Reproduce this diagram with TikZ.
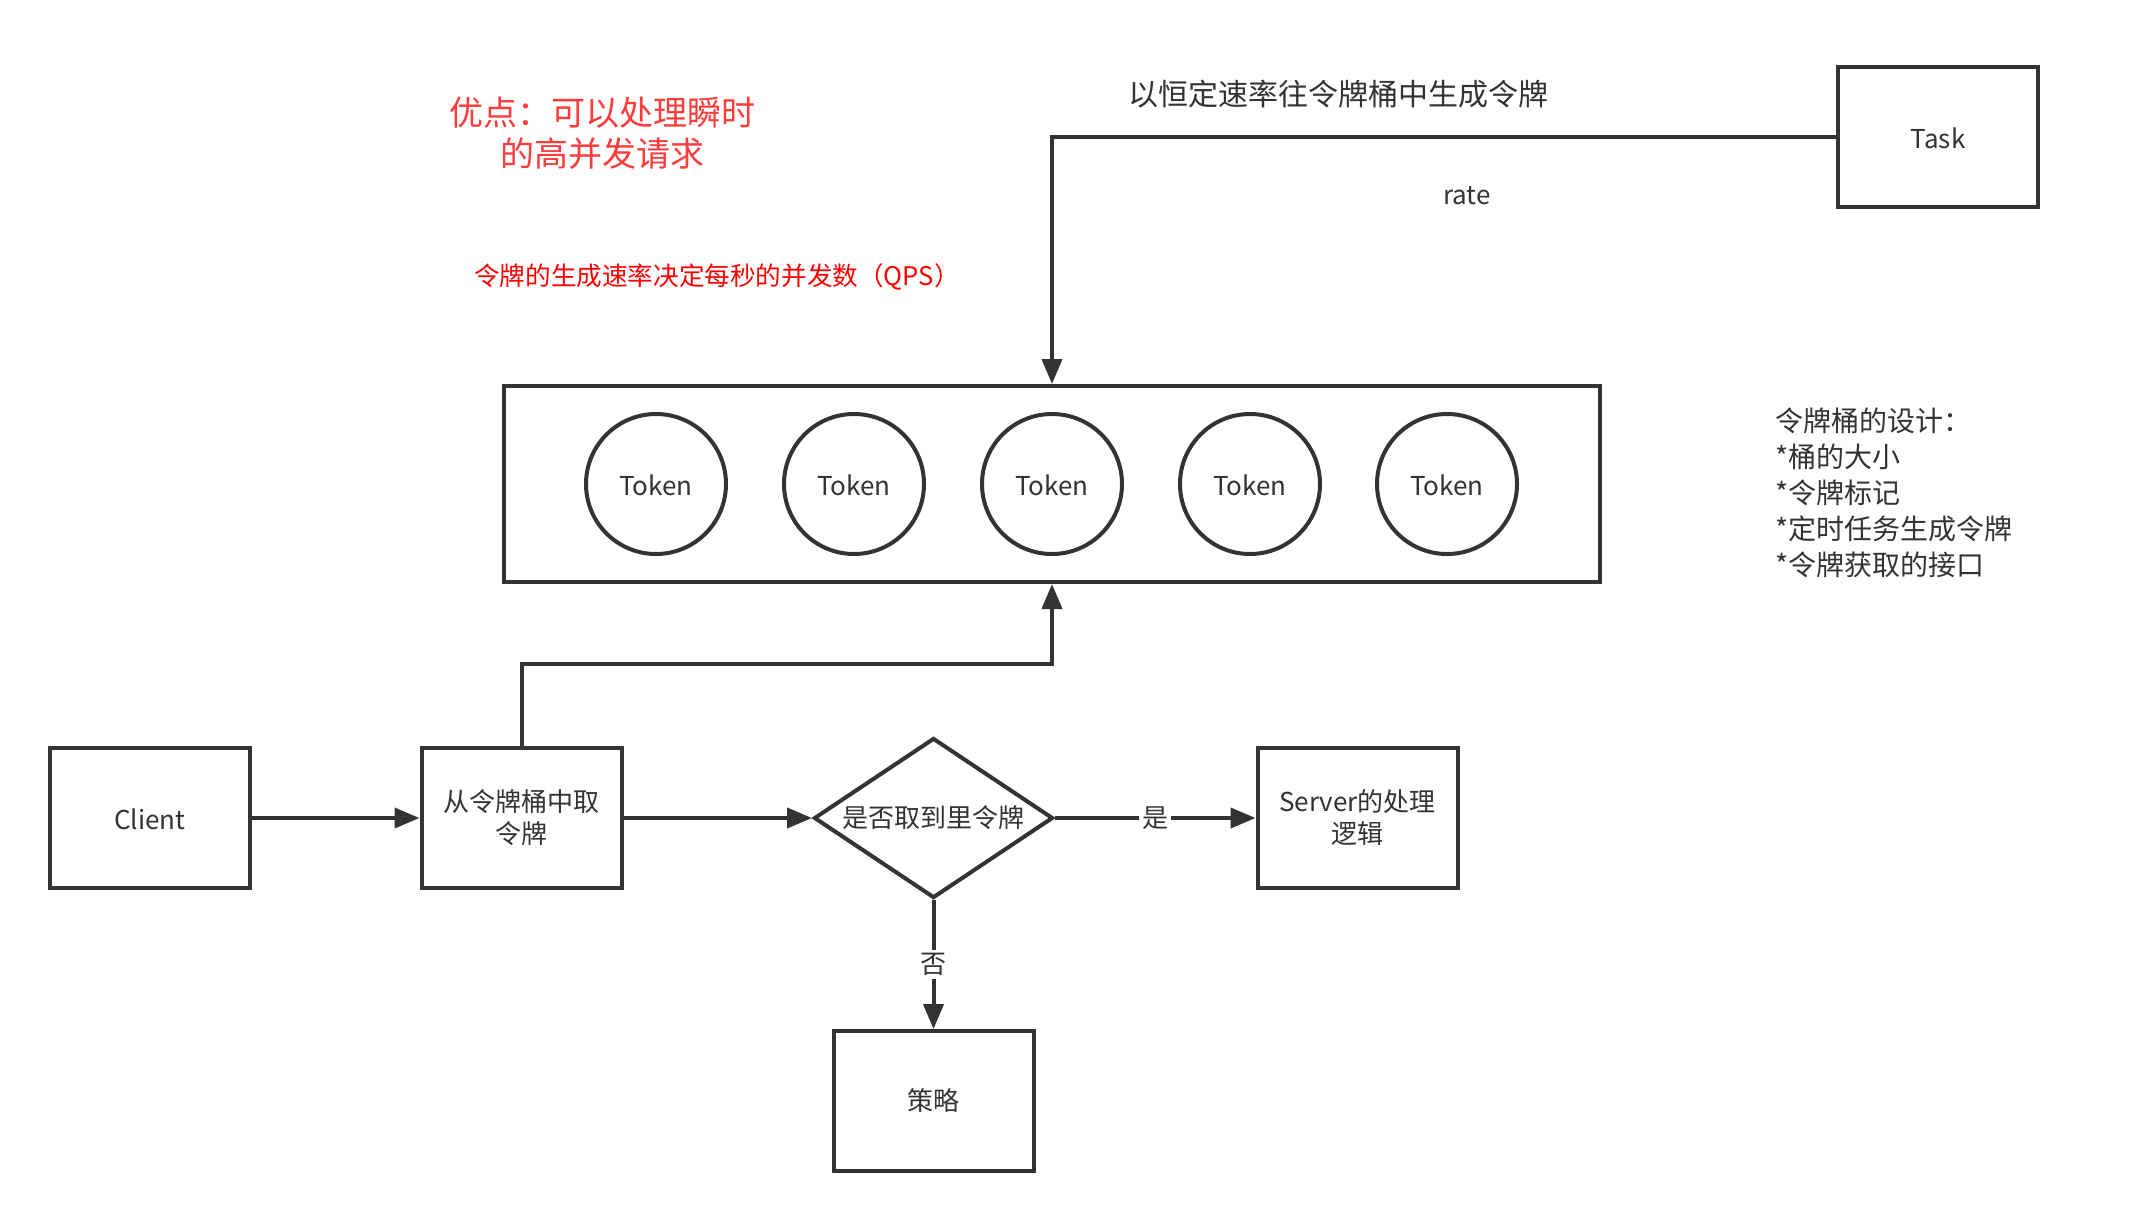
\documentclass[tikz,border=0pt]{standalone}
\usepackage{fontspec}
\setmainfont{Noto Sans CJK SC}
\usetikzlibrary{arrows.meta,shapes.geometric}
\definecolor{ink}{HTML}{333333}
\definecolor{redA}{HTML}{FF3B3B}
\definecolor{redB}{HTML}{FF0000}
\begin{document}
\begin{tikzpicture}[x=0.5pt,y=-0.5pt,
  nodefont/.style={font=\fontsize{13}{16}\selectfont},
  box/.style={draw=ink,line width=2pt,minimum width=100pt,minimum height=70pt,inner sep=0pt,align=center,text=ink,nodefont},
  token/.style={circle,draw=ink,line width=2pt,minimum size=70pt,inner sep=0pt,text=ink,nodefont,text height=11pt,text depth=0pt},
  dec/.style={diamond,draw=ink,line width=2pt,aspect=1.5,minimum width=119.5pt,minimum height=80pt,inner sep=0pt,text=ink,nodefont},
  bucketbox/.style={draw=ink,line width=2pt,minimum width=548pt,minimum height=98pt,inner sep=0pt},
  conn/.style={draw=ink,line width=2pt,-{Triangle[length=12.5pt,width=10pt]}},
  lbl/.style={fill=white,text=ink,inner sep=1.5pt,nodefont}
]
\useasboundingbox[fill=white] (0,0) rectangle (2152,1222);

% boxes
\node[box,text height=11pt,text depth=0pt] (client) at (150,818) {Client};
\node[box] (take) at (521.5,818) {从令牌桶中取\\令牌};
\node[dec] (dia) at (933.5,818) {是否取到里令牌};
\node[box] (server) at (1357.5,818) {Server的处理\\逻辑};
\node[box] (ce) at (933.5,1101) {策略};
\node[box,text height=11pt,text depth=0pt] (task) at (1938,137) {Task};

% bucket
\node[bucketbox] (bucket) at (1052,484) {};
\node[token] (tk1) at (656,484) {Token};
\node[token] (tk2) at (854,484) {Token};
\node[token] (tk3) at (1052,484) {Token};
\node[token] (tk4) at (1250,484) {Token};
\node[token] (tk5) at (1447,484) {Token};

% texts
\node[text=ink,font=\fontsize{15}{18}\selectfont] (t1) at (1338,94) {以恒定速率往令牌桶中生成令牌};
\node[text=ink,nodefont] (rate) at (1467,196) {rate};
\node[text=redA,align=center,font=\fontsize{17}{20.5}\selectfont] (adv) at (602,133) {优点：可以处理瞬时\\的高并发请求};
\node[text=redB,font=\fontsize{12.8}{15}\selectfont] (qps) at (717,277) {令牌的生成速率决定每秒的并发数（QPS）};
\node[text=ink,align=left,anchor=base west,inner sep=0pt,font=\fontsize{14}{18}\selectfont] (design) at (1775,575)
  {令牌桶的设计：\\*桶的大小\\*令牌标记\\*定时任务生成令牌\\*令牌获取的接口};

% connectors
\coordinate (bend) at (1052,664);
\draw[conn] (task.west) -| (bucket.north);
\draw[conn] (take.north) |- (bend) -- (bucket.south);
\draw[conn] (client.east) -- (take.west);
\draw[conn] (take.east) -- (dia.west);
\draw[conn] (dia.east) -- node[lbl] {是} (server.west);
\draw[conn] (dia.south) -- node[lbl] {否} (ce.north);
\end{tikzpicture}
\end{document}
